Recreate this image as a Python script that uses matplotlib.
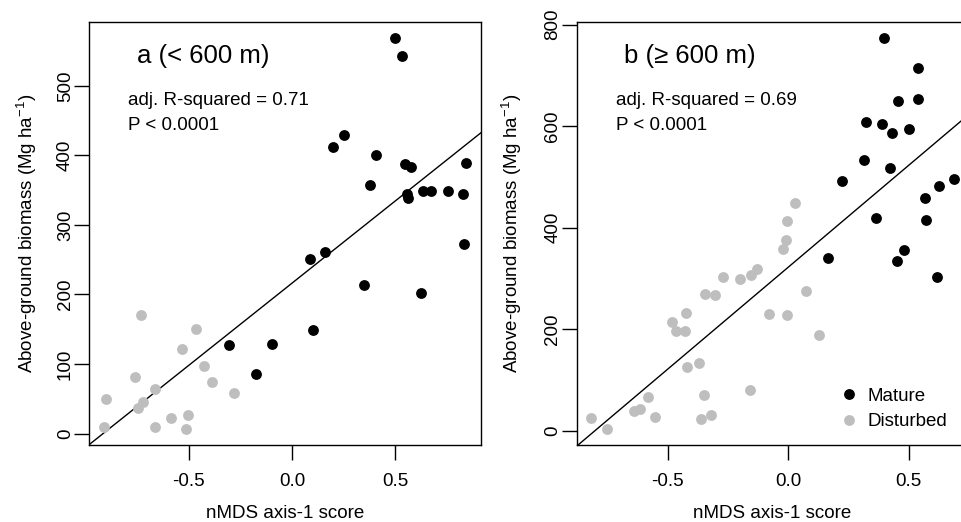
import numpy as np
import matplotlib
matplotlib.use('Agg')
import matplotlib.pyplot as plt
from matplotlib.lines import Line2D

plt.rcParams['font.family'] = ['Liberation Sans', 'DejaVu Sans']
plt.rcParams['mathtext.fontset'] = 'custom'
plt.rcParams['mathtext.rm'] = 'Liberation Sans'
plt.rcParams['mathtext.it'] = 'Liberation Sans'
plt.rcParams['axes.unicode_minus'] = False

# Panel a (< 600 m)
a_mature_x = [0.498, 0.532, 0.250, 0.197, 0.408, 0.547, 0.573, 0.377, 0.842, 0.555,
              0.560, 0.632, 0.671, 0.752, 0.826, 0.831, 0.160, 0.086, 0.347, 0.621,
              0.103, -0.098, -0.306, -0.176]
a_mature_y = [569, 543, 430, 412, 400, 387, 383, 357, 389, 344,
              339, 349, 349, 349, 345, 273, 261, 251, 213, 202,
              149, 129, 128, 85]
a_dist_x = [-0.729, -0.466, -0.532, -0.758, -0.900, -0.663, -0.721, -0.746, -0.427, -0.387,
            -0.279, -0.911, -0.663, -0.588, -0.503, -0.511]
a_dist_y = [170, 150, 122, 82, 50, 64, 45, 36, 97, 74,
            59, 9, 9, 22, 26, 6]

# Panel b (>= 600 m)
b_mature_x = [0.399, 0.540, 0.456, 0.540, 0.321, 0.388, 0.432, 0.500, 0.316, 0.421,
              0.224, 0.686, 0.627, 0.566, 0.364, 0.573, 0.482, 0.450, 0.166, 0.618]
b_mature_y = [774, 714, 650, 653, 609, 604, 587, 594, 533, 517,
              493, 497, 483, 458, 419, 416, 357, 334, 340, 304]
b_dist_x = [0.030, -0.005, -0.011, -0.022, -0.129, -0.154, -0.201, -0.271, -0.302, -0.345,
            -0.425, -0.482, -0.467, -0.427, -0.080, -0.003, -0.421, -0.371, -0.582, -0.614,
            -0.640, -0.551, -0.817, -0.753, -0.350, -0.360, -0.320, -0.159, 0.072, 0.127]
b_dist_y = [449, 413, 376, 359, 318, 307, 300, 303, 267, 269,
            232, 215, 196, 196, 231, 229, 125, 133, 66, 44,
            39, 27, 26, 3, 70, 24, 32, 81, 276, 189]

panels = [
    ('a (< 600 m)', 'adj. R-squared = 0.71', a_mature_x, a_mature_y, a_dist_x, a_dist_y,
     [0, 100, 200, 300, 400, 500]),
    ('b (\u2265 600 m)', 'adj. R-squared = 0.69', b_mature_x, b_mature_y, b_dist_x, b_dist_y,
     [0, 200, 400, 600, 800]),
]

grey = '#BEBEBE'
fs = 13.5
ms = 7.8

fig = plt.figure(figsize=(9.61, 5.22), dpi=100)
axes = [fig.add_axes([0.0929, 0.1475, 0.4073, 0.8098]),
        fig.add_axes([0.6001, 0.1475, 0.4073, 0.8098])]

for ax, (title, r2, mx, my, dx, dy, yticks) in zip(axes, panels):
    ax.plot(mx, my, 'o', color='black', ms=ms, mec='none', zorder=3)
    ax.plot(dx, dy, 'o', color=grey, ms=ms, mec='none', zorder=3)

    # linear fit on all points
    x_all = np.array(mx + dx)
    y_all = np.array(my + dy)
    slope, icpt = np.polyfit(x_all, y_all, 1)
    ax.axline((0, icpt), slope=slope, color='black', lw=1.0, zorder=2)

    # R-style 4% padding
    xr = x_all.max() - x_all.min()
    yr = y_all.max() - y_all.min()
    ax.set_xlim(x_all.min() - 0.04 * xr, x_all.max() + 0.04 * xr)
    ax.set_ylim(y_all.min() - 0.04 * yr, y_all.max() + 0.04 * yr)

    ax.set_xticks([-0.5, 0.0, 0.5])
    ax.set_xticklabels(['-0.5', '0.0', '0.5'])
    ax.set_yticks(yticks)
    ax.set_yticklabels([str(t) for t in yticks], rotation=90, va='center')
    ax.tick_params(direction='out', length=11, width=1.0, labelsize=fs)
    ax.tick_params(axis='x', pad=9)
    ax.tick_params(axis='y', pad=0)
    for s in ax.spines.values():
        s.set_linewidth(1.0)

    ax.set_xlabel('nMDS axis-1 score', fontsize=fs, va='center')
    ax.set_ylabel('Above-ground biomass (Mg ha$^{-1}$)', fontsize=fs, va='center')
    ax.xaxis.set_label_coords(0.5, -0.161)

    ax.text(0.122, 0.920, title, transform=ax.transAxes, fontsize=18.5, va='center')
    ax.text(0.100, 0.816, r2, transform=ax.transAxes, fontsize=fs, va='center')
    ax.text(0.100, 0.755, 'P < 0.0001', transform=ax.transAxes, fontsize=fs, va='center')

axes[0].yaxis.set_label_coords(-0.160, 0.5)
axes[1].yaxis.set_label_coords(-0.166, 0.5)

handles = [Line2D([], [], ls='none', marker='o', color='black', ms=ms, mec='none'),
           Line2D([], [], ls='none', marker='o', color=grey, ms=ms, mec='none')]
axes[1].legend(handles, ['Mature', 'Disturbed'], loc='center left',
               bbox_to_anchor=(0.647, 0.085), frameon=False, fontsize=fs,
               handlelength=1.0, handletextpad=0.5, labelspacing=0.45, borderpad=0)

fig.savefig('out.png', dpi=100)
